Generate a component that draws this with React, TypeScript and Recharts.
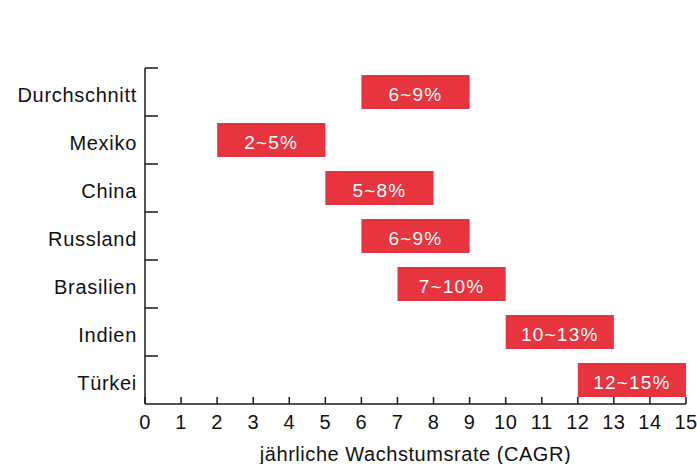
import React from 'react';
import { BarChart, Bar, XAxis, YAxis, LabelList } from 'recharts';

const countries = ['Durchschnitt', 'Mexiko', 'China', 'Russland', 'Brasilien', 'Indien', 'Türkei'];
const lowRates = [6, 2, 5, 6, 7, 10, 12];
const highRates = [9, 5, 8, 9, 10, 13, 15];
const rateTicks = [0, 1, 2, 3, 4, 5, 6, 7, 8, 9, 10, 11, 12, 13, 14, 15];

const WIDTH = 697;
const HEIGHT = 464;
const MARGIN = { top: 68, right: 11, bottom: 0, left: 0 };
const Y_AXIS_WIDTH = 145;
const X_AXIS_HEIGHT = 60;
const BAND = (HEIGHT - MARGIN.top - X_AXIS_HEIGHT) / countries.length;

const BAR_RED = '#E8343E';
const AXIS = '#1a1a1a';
const FONT = '"Liberation Sans", Arial, Helvetica, sans-serif';

const data = countries.map((name, i) => ({
  name,
  range: [lowRates[i], highRates[i]],
  label: `${lowRates[i]}~${highRates[i]}%`,
}));

// category label centred on the band, tick mark on the band's upper edge
const CountryTick = (props: any) => {
  const { x, y, payload } = props;
  const top = y - BAND / 2;
  return (
    <g>
      <line x1={x} x2={x + 13} y1={top} y2={top} stroke={AXIS} strokeWidth={1.5} />
      <text
        x={x - 8}
        y={y}
        dy={10}
        textAnchor="end"
        fill="#111"
        fontSize={20}
        letterSpacing={0.7}
        fontFamily={FONT}
      >
        {payload.value}
      </text>
    </g>
  );
};

// ticks point up into the plot, numbers underneath
const RateTick = (props: any) => {
  const { x, y, payload } = props;
  return (
    <g>
      <line x1={x} x2={x} y1={y - 7} y2={y} stroke={AXIS} strokeWidth={1.5} />
      <text x={x} y={y + 25} textAnchor="middle" fill="#111" fontSize={20} letterSpacing={0.5} fontFamily={FONT}>
        {payload.value}
      </text>
    </g>
  );
};

// white range text inside each bar
const RangeLabel = (props: any) => {
  const { x, y, width, height, value } = props;
  return (
    <text
      x={x + width / 2}
      y={y + height / 2}
      dy={9}
      textAnchor="middle"
      fill="#fff"
      fontSize={19}
      letterSpacing={1.2}
      fontFamily={FONT}
    >
      {value}
    </text>
  );
};

export default function App() {
  return (
    <div style={{ position: 'absolute', left: 0, top: 0, background: '#fff' }}>
      <BarChart width={WIDTH} height={HEIGHT} data={data} layout="vertical" margin={MARGIN}>
        <XAxis
          type="number"
          domain={[0, 15]}
          ticks={rateTicks}
          interval={0}
          height={X_AXIS_HEIGHT}
          tickSize={0}
          tickMargin={0}
          tick={<RateTick />}
          axisLine={{ stroke: AXIS, strokeWidth: 1.5 }}
          label={{
            value: 'jährliche Wachstumsrate (CAGR)',
            position: 'insideBottom',
            offset: 3,
            fill: '#111',
            fontSize: 20,
            letterSpacing: 0.55,
            fontFamily: FONT,
          }}
        />
        <YAxis
          type="category"
          dataKey="name"
          width={Y_AXIS_WIDTH}
          interval={0}
          tickSize={0}
          tickMargin={0}
          tick={<CountryTick />}
          axisLine={{ stroke: AXIS, strokeWidth: 1.5 }}
        />
        <Bar dataKey="range" fill={BAR_RED} barSize={34} isAnimationActive={false}>
          <LabelList dataKey="label" content={<RangeLabel />} />
        </Bar>
      </BarChart>
    </div>
  );
}
